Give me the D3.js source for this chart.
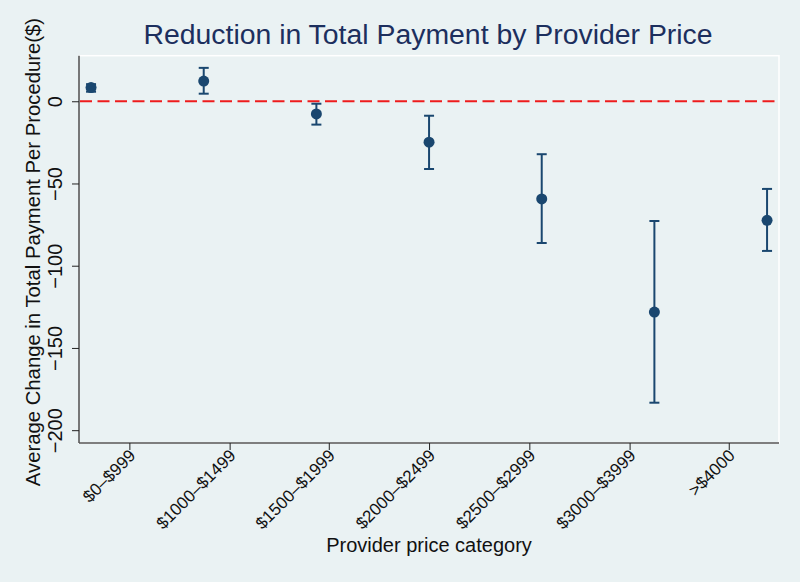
<!DOCTYPE html>
<html>
<head>
<meta charset="utf-8">
<script src="https://cdn.jsdelivr.net/npm/d3@7"></script>
<style>
  html, body { margin: 0; padding: 0; background: #eaf2f3; }
  svg { display: block; font-family: "Liberation Sans", Arial, sans-serif; }
</style>
</head>
<body>
<svg id="chart" width="800" height="582"></svg>
<script>
// ---- data ----
const categories = ["$0–$999", "$1000–$1499", "$1500–$1999", "$2000–$2499", "$2500–$2999", "$3000–$3999", ">$4000"];
const pointX = [1, 2, 3, 4, 5, 6, 7];
const tickX = [1.34, 2.23, 3.11, 4.00, 4.89, 5.78, 6.66];
const estimate = [8.3, 12.3, -7.7, -24.9, -59.4, -128.2, -72.4];
const ciLower = [5.8, 4.6, -14.2, -41.2, -86.2, -183.3, -91.0];
const ciUpper = [10.4, 20.3, -1.5, -8.8, -32.2, -72.8, -53.3];
const yTicks = [0, -50, -100, -150, -200];
const referenceValue = 0;
const title = "Reduction in Total Payment by Provider Price";
const xTitle = "Provider price category";
const yTitle = "Average Change in Total Payment Per Procedure($)";

// ---- layout ----
const bg = "#eaf2f3";
const navy = "#1a476f";
const plot = { left: 79, right: 779, top: 55.7, bottom: 443 };

const svg = d3.select("#chart");
svg.append("rect").attr("width", 800).attr("height", 582).attr("fill", bg);

const x = d3.scaleLinear().domain([0.893, 7.106]).range([plot.left, plot.right]);
const y = d3.scaleLinear().domain([-207.8, 27.7]).range([plot.bottom, plot.top]);

// plot region outline
svg.append("rect")
  .attr("x", plot.left).attr("y", plot.top)
  .attr("width", plot.right - plot.left).attr("height", plot.bottom - plot.top)
  .attr("fill", bg).attr("stroke", "#ffffff").attr("stroke-width", 1.5);

// title
svg.append("text")
  .attr("x", 428).attr("y", 44)
  .attr("text-anchor", "middle")
  .attr("font-size", 28.4)
  .attr("fill", "#1c2f5e")
  .text(title);

// y axis
const yAxis = d3.axisLeft(y).tickValues(yTicks).tickSize(7).tickFormat(d3.format("d"));
const gy = svg.append("g").attr("transform", `translate(${plot.left},0)`).call(yAxis);
gy.select(".domain").attr("stroke", "#555").attr("stroke-width", 1.6).attr("d", `M0,${plot.top}V${plot.bottom}`);
gy.selectAll(".tick line").attr("stroke", "#222").attr("stroke-width", 1);
gy.selectAll(".tick text")
  .attr("font-size", 20)
  .attr("fill", "#111")
  .attr("font-family", "Liberation Sans, Arial, sans-serif")
  .attr("transform", "rotate(-90)")
  .attr("x", 0).attr("y", -17).attr("dy", "0")
  .attr("text-anchor", "middle");

// x axis
const xAxis = d3.axisBottom(x).tickValues(tickX).tickSize(7).tickFormat((d, i) => categories[i]);
const gx = svg.append("g").attr("transform", `translate(0,${plot.bottom})`).call(xAxis);
gx.select(".domain").attr("stroke", "#555").attr("stroke-width", 1.6).attr("d", `M${plot.left},0H${plot.right}`);
gx.selectAll(".tick line").attr("stroke", "#222").attr("stroke-width", 1);
gx.selectAll(".tick text")
  .attr("font-size", 17)
  .attr("fill", "#111")
  .attr("font-family", "Liberation Sans, Arial, sans-serif")
  .attr("text-anchor", "end")
  .attr("x", 0).attr("y", 0).attr("dy", "0.72em")
  .attr("transform", "translate(-2,5) rotate(-45)");

// axis titles
svg.append("text")
  .attr("x", 429).attr("y", 552)
  .attr("text-anchor", "middle").attr("font-size", 20).attr("fill", "#111")
  .text(xTitle);
svg.append("text")
  .attr("transform", `translate(40,252) rotate(-90)`)
  .attr("text-anchor", "middle").attr("font-size", 20.3).attr("fill", "#111")
  .text(yTitle);

// reference line
svg.append("line")
  .attr("x1", plot.left + 1).attr("x2", plot.right)
  .attr("y1", y(referenceValue)).attr("y2", y(referenceValue))
  .attr("stroke", "#ee1c1c").attr("stroke-width", 2)
  .attr("stroke-dasharray", "12,5.5");

// error bars
const data = pointX.map((px, i) => ({ px, est: estimate[i], lo: ciLower[i], hi: ciUpper[i] }));
const eb = svg.append("g").attr("stroke", navy).attr("stroke-width", 2);
eb.selectAll("line.v").data(data).join("line").attr("class", "v")
  .attr("x1", d => x(d.px)).attr("x2", d => x(d.px))
  .attr("y1", d => y(d.lo)).attr("y2", d => y(d.hi));
eb.selectAll("line.capHi").data(data).join("line").attr("class", "capHi")
  .attr("x1", d => x(d.px) - 5).attr("x2", d => x(d.px) + 5)
  .attr("y1", d => y(d.hi)).attr("y2", d => y(d.hi));
eb.selectAll("line.capLo").data(data).join("line").attr("class", "capLo")
  .attr("x1", d => x(d.px) - 5).attr("x2", d => x(d.px) + 5)
  .attr("y1", d => y(d.lo)).attr("y2", d => y(d.lo));

// points
svg.append("g").selectAll("circle").data(data).join("circle")
  .attr("cx", d => x(d.px)).attr("cy", d => y(d.est))
  .attr("r", 5.5).attr("fill", navy);
</script>
</body>
</html>
